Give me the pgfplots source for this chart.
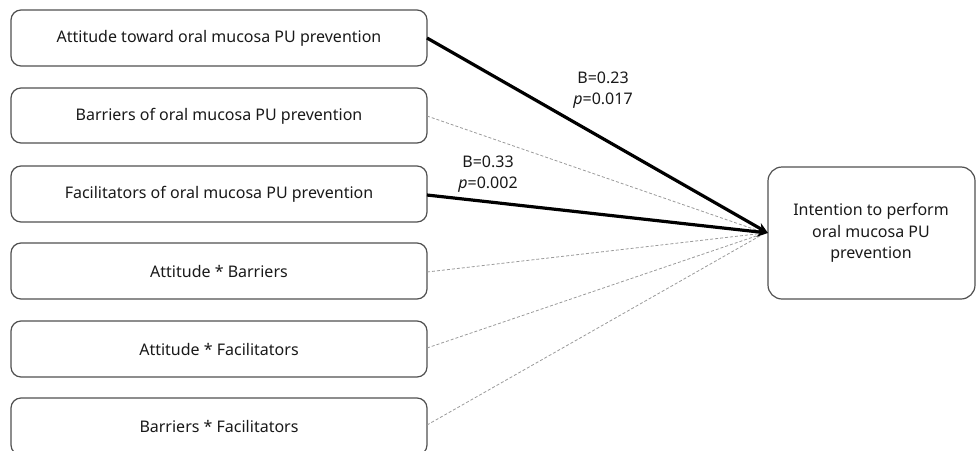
\documentclass[border=0pt]{standalone}
\usepackage{fontspec}
\setmainfont{Noto Sans}
\usepackage{pgfplots}
\pgfplotsset{compat=1.18}
\usetikzlibrary{arrows.meta}
\definecolor{boxline}{HTML}{505050}
\definecolor{dashline}{HTML}{9A9A9A}
\tikzset{lbl/.style={font=\fontsize{16}{21.5}\selectfont, text=black!90, inner sep=0pt}}
\begin{document}
\begin{tikzpicture}
\begin{axis}[
  x=1pt, y=1pt,
  xmin=0, xmax=979, ymin=0, ymax=450,
  y dir=reverse,
  scale only axis,
  hide axis,
  clip=true,
]
% left boxes
\addplot[draw=boxline, line width=1.2pt, rounded corners=10pt] coordinates {(219,10) (427,10) (427,66) (11,66) (11,10) (219,10)};
\addplot[draw=boxline, line width=1.2pt, rounded corners=10pt] coordinates {(219,88) (427,88) (427,143) (11,143) (11,88) (219,88)};
\addplot[draw=boxline, line width=1.2pt, rounded corners=10pt] coordinates {(219,166) (427,166) (427,222) (11,222) (11,166) (219,166)};
\addplot[draw=boxline, line width=1.2pt, rounded corners=10pt] coordinates {(219,243) (427,243) (427,299) (11,299) (11,243) (219,243)};
\addplot[draw=boxline, line width=1.2pt, rounded corners=10pt] coordinates {(219,321) (427,321) (427,377) (11,377) (11,321) (219,321)};
\addplot[draw=boxline, line width=1.2pt, rounded corners=10pt] coordinates {(219,398) (427,398) (427,455) (11,455) (11,398) (219,398)};
% outcome box
\addplot[draw=boxline, line width=1.2pt, rounded corners=14pt] coordinates {(871,167) (975,167) (975,299) (768,299) (768,167) (871,167)};

% non-significant paths
\addplot[dashline, line width=0.8pt, dash pattern=on 3pt off 2pt] coordinates {(427,116) (765,233)};
\addplot[dashline, line width=0.8pt, dash pattern=on 3pt off 2pt] coordinates {(427,272) (765,233)};
\addplot[dashline, line width=0.8pt, dash pattern=on 3pt off 2pt] coordinates {(427,348) (765,233)};
\addplot[dashline, line width=0.8pt, dash pattern=on 3pt off 2pt] coordinates {(427,425) (765,233)};
% significant paths
\addplot[black, line width=3.2pt, -{Stealth[length=11pt,width=10pt]}] coordinates {(427,38) (768,233)};
\addplot[black, line width=3.2pt, -{Stealth[length=11pt,width=10pt]}] coordinates {(427,195) (768,233)};

% labels
\node[lbl] at (axis cs:219,38) {Attitude toward oral mucosa PU prevention};
\node[lbl] at (axis cs:219,116) {Barriers of oral mucosa PU prevention};
\node[lbl] at (axis cs:219,194) {Facilitators of oral mucosa PU prevention};
\node[lbl] at (axis cs:219,271) {Attitude * Barriers};
\node[lbl] at (axis cs:219,349) {Attitude * Facilitators};
\node[lbl] at (axis cs:219,426) {Barriers * Facilitators};
\node[lbl, align=center] at (axis cs:871,233) {Intention to perform\\oral mucosa PU\\prevention};
\node[lbl, align=center] at (axis cs:603,90) {B=0.23\\\textit{p}=0.017};
\node[lbl, align=center] at (axis cs:488,174) {B=0.33\\\textit{p}=0.002};
\end{axis}
\pgfresetboundingbox
\path (current axis.south west) rectangle (current axis.north east);
\end{tikzpicture}
\end{document}
